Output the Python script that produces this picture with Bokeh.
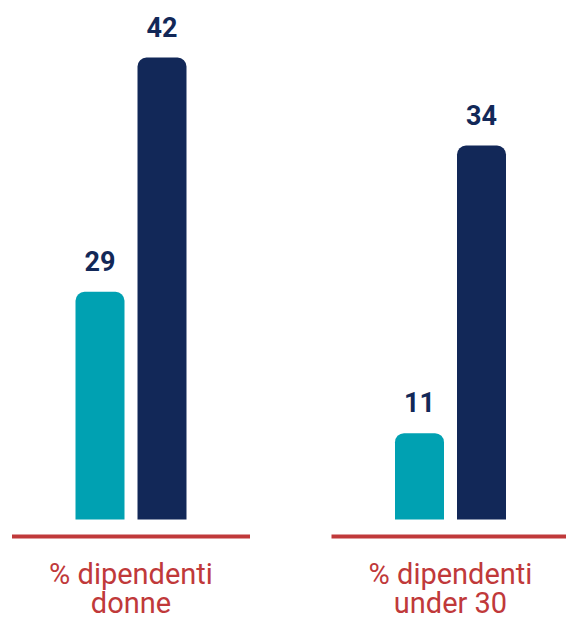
from bokeh.plotting import figure
from bokeh.models import Range1d, ColumnDataSource, LabelSet
from bokeh.core.properties import value
from bokeh.embed import file_html
from bokeh.resources import INLINE

# ---- data ----
categories = ["% dipendenti\ndonne", "% dipendenti\nunder 30"]
teal_values = [29, 11]
navy_values = [42, 34]

# ---- style ----
TEAL = "#00A1B2"
NAVY = "#122858"
RED = "#C0393A"
W, H = 566, 618
PAGE_X0, PAGE_Y0 = 0, 0
BASE_PAGE = 519          # page y of bar baseline
NAVY_PX = 11.0           # px per unit, navy series
TEAL_PX = 7.85           # px per unit, teal series
GROUP_PX = 319.5         # px between group centres
GROUP0_PAGE = 130.5      # page x of first group centre

x_start = -(GROUP0_PAGE - PAGE_X0) / GROUP_PX
x_end = x_start + W / GROUP_PX

p = figure(width=W, height=H, output_backend="svg", toolbar_location=None,
           x_range=Range1d(x_start, x_end),
           y_range=Range1d(-(PAGE_Y0 + H - BASE_PAGE) / NAVY_PX, (BASE_PAGE - PAGE_Y0) / NAVY_PX),
           min_border=0, outline_line_color=None, background_fill_color="white",
           border_fill_color="white")
p.extra_y_ranges = {"teal": Range1d(-(PAGE_Y0 + H - BASE_PAGE) / TEAL_PX, (BASE_PAGE - PAGE_Y0) / TEAL_PX)}
p.axis.visible = False
p.xgrid.visible = False
p.ygrid.visible = False

idx = list(range(len(categories)))
off = 31 / GROUP_PX
bw = 49 / GROUP_PX

teal_src = ColumnDataSource(dict(x=[i - off for i in idx], top=teal_values,
                                 label=[str(v) for v in teal_values]))
navy_src = ColumnDataSource(dict(x=[i + off for i in idx], top=navy_values,
                                 label=[str(v) for v in navy_values]))

p.vbar(x="x", top="top", bottom=0, width=bw, source=teal_src, fill_color=TEAL,
       line_color=None, y_range_name="teal", border_radius=(9, 9, 0, 0))
p.vbar(x="x", top="top", bottom=0, width=bw, source=navy_src, fill_color=NAVY,
       line_color=None, border_radius=(9, 9, 0, 0))

lab_kw = dict(x="x", y="top", text="label", y_offset=21, text_align="center",
              text_baseline="alphabetic", text_font=value("Roboto"), text_font_style="bold",
              text_font_size="27px", text_color=NAVY)
p.add_layout(LabelSet(source=teal_src, y_range_name="teal", **lab_kw))
p.add_layout(LabelSet(source=navy_src, **lab_kw))

# red underline per group
half = 119 / GROUP_PX
yl = -17 / NAVY_PX
p.segment(x0=[i - half for i in idx], x1=[i + half for i in idx], y0=[yl] * len(idx),
          y1=[yl] * len(idx), line_color=RED, line_width=4, line_cap="butt")

# category labels, line by line
rows1, rows2 = dict(x=[], y=[], t=[]), dict(x=[], y=[], t=[])
for i, c in zip(idx, categories):
    l1, l2 = c.split("\n")
    for d, t in ((rows1, l1), (rows2, l2)):
        d["x"].append(i)
        d["y"].append(0)
        d["t"].append(t)
cat_kw = dict(x="x", y="y", text="t", text_align="center", text_baseline="alphabetic",
              text_font=value("Roboto"), text_font_size="29px", text_color=RED)
p.add_layout(LabelSet(source=ColumnDataSource(rows1), y_offset=-(583 - BASE_PAGE), **cat_kw))
p.add_layout(LabelSet(source=ColumnDataSource(rows2), y_offset=-(612 - BASE_PAGE), **cat_kw))

open("out.html", "w").write(file_html(p, INLINE))
